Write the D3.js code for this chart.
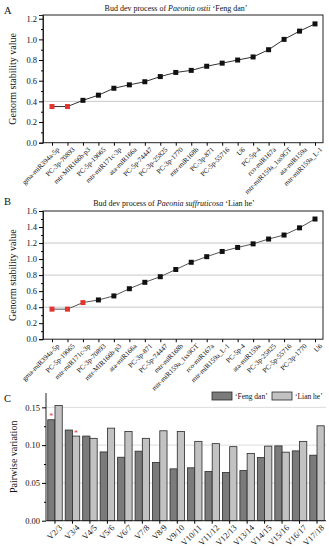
<!DOCTYPE html>
<html><head><meta charset="utf-8">
<script src="https://cdn.jsdelivr.net/npm/d3@7"></script>
<style>body{margin:0;background:#fff}svg{display:block}text{font-family:"Liberation Serif","DejaVu Serif",serif;fill:#111}</style>
</head><body><svg id="c" width="329" height="550"></svg>
<script>
const genesA=["gma-miR394a-5p","PC-3p-70893","mtr-MIR166b-p3","PC-5p-19065","mtr-miR171c-3p","ata-miR166a","PC-5p-74447","PC-3p-25825","PC-3p-1770","mtr-miR168b","PC-3p-871","PC-5p-55716","U6","PC-5p-4","rco-miR167a","mtr-miR159a_1ss9GT","ata-miR159a","mtr-miR159a_L-1"];
const valuesA=[0.35,0.35,0.41,0.46,0.527,0.56,0.59,0.64,0.68,0.70,0.74,0.77,0.80,0.83,0.90,1.00,1.08,1.15];
const redA=2;
const genesB=["gma-miR394a-5p","PC-5p-19065","mtr-miR171c-3p","PC-3p-70893","mtr-MIR166b-p3","ata-miR166a","PC-3p-871","PC-5p-74447","mtr-miR168b","mtr-miR159a_1ss9GT","rco-miR167a","mtr-miR159a_L-1","PC-5p-4","ata-miR159a","PC-3p-25825","PC-5p-55716","PC-3p-1770","U6"];
const valuesB=[0.375,0.375,0.457,0.49,0.54,0.63,0.71,0.78,0.87,0.96,1.03,1.095,1.145,1.19,1.25,1.30,1.39,1.50];
const redB=3;
const pairs=["V2/3","V3/4","V4/5","V5/6","V6/7","V7/8","V8/9","V9/10","V10/11","V11/12","V12/13","V13/14","V14/15","V15/16","V16/17","V17/18"];
const fengDan=[0.1336,0.120,0.112,0.091,0.084,0.092,0.077,0.0686,0.070,0.065,0.0637,0.0663,0.0836,0.099,0.0924,0.0867];
const lianHe=[0.1525,0.112,0.109,0.1225,0.118,0.109,0.119,0.118,0.105,0.102,0.098,0.089,0.0987,0.0907,0.105,0.1256];
const starIdx=[[0,"Feng dan"],[1,"Lian he"]];
const yTicksA=[0,0.2,0.4,0.6,0.8,1.0,1.2];
const yTicksB=[0,0.2,0.4,0.6,0.8,1.0,1.2,1.4,1.6];
const yTicksC=[0,0.05,0.10,0.15];

const svg=d3.select("#c");
const RED="#e3342f";

function linePanel(o){
  const g=svg.append("g");
  const y=d3.scaleLinear().domain([0,o.ymax]).range([o.bottom,o.top]);
  const x=d3.scalePoint().domain(o.genes).range([52,315]);
  g.selectAll(".grid").data(o.grid).join("line")
    .attr("x1",o.left).attr("x2",o.right).attr("y1",d=>y(d)).attr("y2",d=>y(d))
    .attr("stroke","#c8c8c8").attr("stroke-width",1);
  g.append("rect").attr("x",o.left).attr("y",o.top).attr("width",o.right-o.left).attr("height",o.bottom-o.top)
    .attr("fill","none").attr("stroke","#222").attr("stroke-width",1);
  const ya=g.append("g").attr("transform",`translate(${o.left},0)`)
    .call(d3.axisLeft(y).tickValues(o.yticks).tickFormat(d3.format(".1f")).tickSize(4).tickPadding(2));
  ya.select(".domain").attr("stroke","#222");
  ya.selectAll("text").style("font-size","8.5px").style("font-family","Liberation Serif");
  const minor=d3.range(0.1,o.ymax,0.2);
  g.append("g").attr("transform",`translate(${o.left},0)`)
    .call(d3.axisLeft(y).tickValues(minor).tickFormat("").tickSize(2)).select(".domain").remove();
  const xa=g.append("g").attr("transform",`translate(0,${o.bottom})`)
    .call(d3.axisBottom(x).tickSize(3).tickPadding(1));
  xa.select(".domain").remove();
  xa.selectAll("text").style("font-size","7px").style("font-family","Liberation Serif")
    .attr("text-anchor","end").attr("transform","translate(3,3) rotate(-45)").attr("dy","0.3em");
  const line=d3.line().x((d,i)=>x(o.genes[i])).y(d=>y(d));
  g.append("path").datum(o.values).attr("d",line).attr("fill","none").attr("stroke",o.lineColor).attr("stroke-width",1);
  g.selectAll(".pt").data(o.values).join("rect")
    .attr("x",(d,i)=>x(o.genes[i])-2.5).attr("y",d=>y(d)-2.5).attr("width",5).attr("height",5)
    .attr("fill",(d,i)=>i<o.red?RED:"#111");
  const t=g.append("text").attr("x",o.titleX).attr("y",o.titleY).attr("text-anchor","middle").style("font-size","8px");
  t.append("tspan").text("Bud dev process of ");
  t.append("tspan").style("font-style","italic").text(o.species);
  t.append("tspan").text(" "+o.cultivar);
  g.append("text").attr("x",4).attr("y",o.letterY).style("font-size","10.5px").text(o.letter);
  g.append("text").attr("transform",`translate(16,${(o.top+o.bottom)/2}) rotate(-90)`).attr("text-anchor","middle")
    .style("font-size","10px").text("Genorm stability value");
}

linePanel({genes:genesA,values:valuesA,red:redA,top:15,bottom:142.7,left:43,right:323,ymax:1.236,yticks:yTicksA,grid:[0.4],
  lineColor:"#333",titleX:176,titleY:11,species:"Paeonia ostii",cultivar:"\u2018Feng dan\u2019",letter:"A",letterY:14});
linePanel({genes:genesB,values:valuesB,red:redB,top:211,bottom:339.2,left:43,right:323,ymax:1.6,yticks:yTicksB,grid:[0.4,0.8,1.2],
  lineColor:"#555",titleX:174,titleY:206,species:"Paeonia suffruticosa",cultivar:"\u2018Lian he\u2019",letter:"B",letterY:205});

(function(){
  const g=svg.append("g");
  const left=46,right=326,top=393,bottom=520.7;
  const y=d3.scaleLinear().domain([0,0.169]).range([bottom,top]);
  const x0=d3.scaleBand().domain(pairs).range([left,right]).paddingInner(0.17).paddingOuter(0.1);
  const x1=d3.scaleBand().domain(["Feng dan","Lian he"]).range([0,x0.bandwidth()]);
  const col={"Feng dan":"#7b7b7b","Lian he":"#c2c2c2"};
  g.selectAll(".grid").data([0.05,0.10,0.15]).join("line")
    .attr("x1",left).attr("x2",right).attr("y1",d=>y(d)).attr("y2",d=>y(d)).attr("stroke","#dcdcdc");
  const data=pairs.map((p,i)=>({p,vals:[["Feng dan",fengDan[i]],["Lian he",lianHe[i]]]}));
  const grp=g.selectAll(".grp").data(data).join("g").attr("transform",d=>`translate(${x0(d.p)},0)`);
  grp.selectAll("rect").data(d=>d.vals).join("rect")
    .attr("x",d=>x1(d[0])).attr("width",x1.bandwidth()).attr("y",d=>y(d[1])).attr("height",d=>bottom-y(d[1]))
    .attr("fill",d=>col[d[0]]).attr("stroke","#2a2a2a").attr("stroke-width",0.8);
  starIdx.forEach(([i,s])=>{
    g.append("text").attr("x",x0(pairs[i])+x1(s)+x1.bandwidth()/2).attr("y",y(s==="Feng dan"?fengDan[i]:lianHe[i])-0.5)
      .attr("text-anchor","middle").style("font-size","8px").style("fill",RED).text("*");
  });
  const ya=g.append("g").attr("transform",`translate(${left},0)`)
    .call(d3.axisLeft(y).tickValues(yTicksC).tickFormat(d3.format(".2f")).tickSize(4).tickPadding(2));
  ya.select(".domain").attr("stroke","#222").attr("d",`M0,${bottom}V${top}`);
  ya.selectAll("text").style("font-size","8.5px").style("font-family","Liberation Serif");
  g.append("g").attr("transform",`translate(${left},0)`)
    .call(d3.axisLeft(y).tickValues([0.025,0.075,0.125]).tickFormat("").tickSize(2)).select(".domain").remove();
  const xa=g.append("g").attr("transform",`translate(0,${bottom})`).call(d3.axisBottom(x0).tickSize(3).tickPadding(1));
  xa.select(".domain").attr("stroke","#222").attr("d",`M${left},0H${right}`);
  xa.selectAll("text").style("font-size","8.5px").style("font-family","Liberation Serif")
    .attr("text-anchor","end").attr("transform","translate(3,3) rotate(-45)").attr("dy","0.3em");
  g.append("text").attr("x",4).attr("y",402).style("font-size","10.5px").text("C");
  g.append("text").attr("transform",`translate(17,${(top+bottom)/2}) rotate(-90)`).attr("text-anchor","middle")
    .style("font-size","10px").text("Pairwise variation");
  const lg=g.append("g");
  const items=[["Feng dan",212,"\u2018Feng dan\u2019"],["Lian he",272,"\u2018Lian he\u2019"]];
  items.forEach(([k,lx,lab])=>{
    lg.append("rect").attr("x",lx).attr("y",392).attr("width",20).attr("height",8).attr("fill",col[k]).attr("stroke","#2a2a2a").attr("stroke-width",0.8);
    lg.append("text").attr("x",lx+23).attr("y",399).style("font-size","7.5px").text(lab);
  });
})();
</script></body></html>
